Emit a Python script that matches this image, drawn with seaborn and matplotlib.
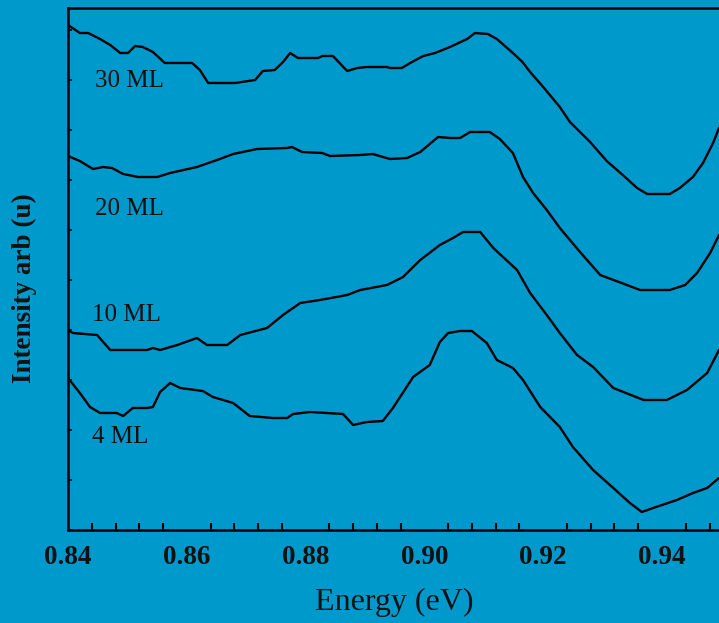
import matplotlib
matplotlib.use("Agg")
import matplotlib.pyplot as plt
import seaborn as sns
import pandas as pd
from matplotlib.ticker import MultipleLocator

# ---- data ----
e30 = [0.8400, 0.8420, 0.8434, 0.8454, 0.8471, 0.8488, 0.8501, 0.8513, 0.8526, 0.8543,
       0.8563, 0.8609, 0.8622, 0.8636, 0.8681, 0.8715, 0.8728, 0.8748, 0.8762, 0.8774,
       0.8787, 0.8821, 0.8828, 0.8846, 0.8870, 0.8887, 0.8903, 0.8937, 0.8942, 0.8962,
       0.8976, 0.8998, 0.9018, 0.9043, 0.9072, 0.9085, 0.9107, 0.9122, 0.9149, 0.9165,
       0.9178, 0.9200, 0.9228, 0.9245, 0.9279, 0.9307, 0.9334, 0.9358, 0.9375, 0.9413,
       0.9430, 0.9452, 0.9469, 0.9486, 0.9496]
i30 = [505, 497, 497, 491, 485, 477, 477, 484, 483, 478,
       467, 467, 460, 447, 447, 450, 459, 460, 468, 477,
       472, 472, 474, 474, 459, 462, 463, 463, 462, 462,
       467, 474, 477, 483, 491, 497, 496, 491, 477, 468,
       458, 443, 423, 408, 388, 369, 355, 342, 336, 336,
       342, 353, 367, 387, 402]

e20 = [0.8400, 0.8420, 0.8442, 0.8459, 0.8474, 0.8493, 0.8518, 0.8550, 0.8572, 0.8617,
       0.8651, 0.8678, 0.8718, 0.8769, 0.8777, 0.8794, 0.8828, 0.8841, 0.8892, 0.8913,
       0.8942, 0.8971, 0.8993, 0.9009, 0.9023, 0.9043, 0.9060, 0.9077, 0.9110, 0.9127,
       0.9149, 0.9166, 0.9183, 0.9206, 0.9228, 0.9262, 0.9296, 0.9341, 0.9363, 0.9413,
       0.9439, 0.9459, 0.9481, 0.9496]
i20 = [374, 369, 361, 363, 362, 356, 353, 353, 357, 363,
       370, 376, 381, 382, 383, 378, 377, 374, 375, 376,
       371, 372, 378, 386, 393, 392, 392, 398, 398, 391,
       377, 353, 337, 320, 302, 278, 255, 245, 240, 240,
       245, 257, 277, 295]

e10 = [0.8400, 0.8408, 0.8449, 0.8471, 0.8533, 0.8543, 0.8555, 0.8584, 0.8617, 0.8634,
       0.8668, 0.8690, 0.8735, 0.8762, 0.8791, 0.8824, 0.8870, 0.8892, 0.8937, 0.8964,
       0.8993, 0.9026, 0.9048, 0.9065, 0.9094, 0.9116, 0.9156, 0.9178, 0.9206, 0.9228,
       0.9257, 0.9284, 0.9318, 0.9369, 0.9408, 0.9442, 0.9476, 0.9496]
i10 = [200, 197, 195, 180, 180, 182, 180, 185, 192, 185,
       185, 195, 202, 215, 227, 230, 235, 240, 245, 253,
       270, 285, 292, 298, 298, 282, 260, 237, 215, 197,
       175, 163, 142, 130, 130, 140, 157, 180]

e4 = [0.8400, 0.8420, 0.8437, 0.8454, 0.8482, 0.8493, 0.8509, 0.8533, 0.8543, 0.8555,
      0.8572, 0.8589, 0.8627, 0.8644, 0.8678, 0.8706, 0.8745, 0.8769, 0.8779, 0.8807,
      0.8863, 0.8880, 0.8903, 0.8930, 0.8947, 0.8981, 0.9009, 0.9026, 0.9040, 0.9060,
      0.9080, 0.9105, 0.9122, 0.9149, 0.9166, 0.9195, 0.9228, 0.9250, 0.9284, 0.9318,
      0.9346, 0.9366, 0.9385, 0.9425, 0.9452, 0.9476, 0.9496]
i4 = [152, 137, 123, 117, 117, 114, 122, 122, 123, 138,
      147, 142, 139, 133, 127, 114, 112, 112, 116, 118,
      116, 105, 108, 109, 122, 153, 165, 188, 197, 199,
      199, 187, 170, 162, 150, 123, 103, 83, 60, 42,
      27, 18, 22, 30, 37, 42, 52]

series_names = ["30 ML", "20 ML", "10 ML", "4 ML"]
label_x = [0.8445, 0.8445, 0.8440, 0.8440]
label_y = [449, 321, 215, 93]
x_ticks = [0.84, 0.86, 0.88, 0.90, 0.92, 0.94]
x_tick_labels = ["0.84", "0.86", "0.88", "0.90", "0.92", "0.94"]

frames = []
for name, e, i in zip(series_names, [e30, e20, e10, e4], [i30, i20, i10, i4]):
    frames.append(pd.DataFrame({"Energy": e, "Intensity": i, "Film": name}))
df = pd.concat(frames, ignore_index=True)

bg = "#0099CC"
sns.set_theme(style="white")
plt.rcParams["font.family"] = ["Liberation Serif", "DejaVu Serif"]

fig = plt.figure(figsize=(7.19, 6.23), dpi=100, facecolor=bg)
ax = fig.add_axes([68 / 719, 93 / 623, 653.4 / 719, 522 / 623])
ax.set_facecolor(bg)

sns.lineplot(data=df, x="Energy", y="Intensity", units="Film", estimator=None,
             color="black", linewidth=1.7, sort=False, ax=ax, legend=False)

for name, lx, ly in zip(series_names, label_x, label_y):
    ax.text(lx, ly, name, fontsize=18, ha="left", va="center", color="#111111")

ax.set_xlim(0.84, 0.95)
ax.set_ylim(0, 522)

ax.xaxis.set_minor_locator(MultipleLocator(0.004))
ax.yaxis.set_major_locator(MultipleLocator(50))
ax.set_xticks(x_ticks)
ax.set_xticklabels(x_tick_labels, fontsize=19.5, fontweight="bold")
ax.set_yticklabels([])
ax.tick_params(axis="x", which="major", direction="in", length=9, width=1.5,
               color="black", pad=11, labelcolor="#111111")
ax.tick_params(axis="x", which="minor", direction="in", length=5, width=1.5,
               color="black", bottom=True)
ax.tick_params(axis="y", which="major", direction="in", length=3, width=1.2,
               color="black", left=True)

for side in ["left", "bottom", "top"]:
    ax.spines[side].set_color("black")
    ax.spines[side].set_linewidth(1.8)
ax.spines["right"].set_visible(False)

ax.set_xlabel("Energy (eV)", fontsize=23, labelpad=13, color="#111111")
ax.set_ylabel("Intensity arb (u)", fontsize=19.5, fontweight="bold", color="#111111")
ax.yaxis.set_label_coords(-0.0475, 0.4636)

fig.savefig("out.png", dpi=100, facecolor=bg)
